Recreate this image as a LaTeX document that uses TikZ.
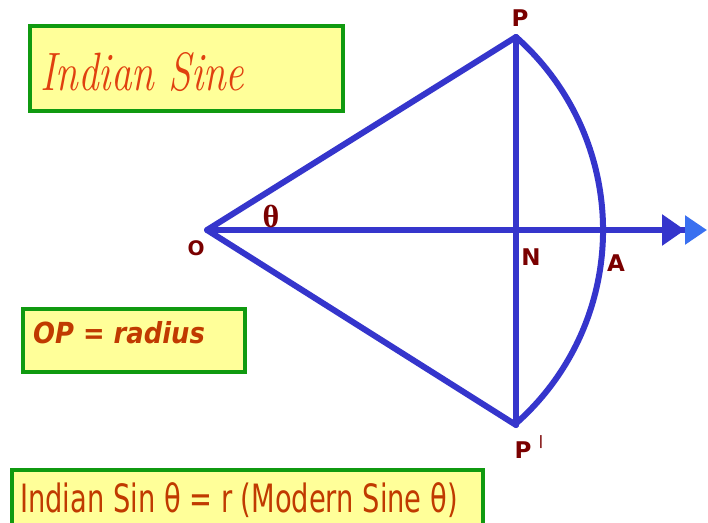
\documentclass[tikz,border=0pt]{standalone}
\usepackage{fontspec}
\usetikzlibrary{arrows.meta}
\newfontfamily\sansf{DejaVu Sans}
\newfontfamily\greekf{Liberation Serif}
\definecolor{lineblue}{HTML}{3535CC}
\definecolor{tipblue}{HTML}{3A70F0}
\definecolor{boxgreen}{HTML}{109A10}
\definecolor{boxfill}{HTML}{FFFF99}
\definecolor{lblred}{HTML}{7A0000}
\definecolor{titlered}{HTML}{E0400F}
\definecolor{txtred}{HTML}{C03A00}
\tikzset{
  geo/.style={draw=lineblue, line width=6pt, line cap=round, line join=round},
  textbox/.style={draw=boxgreen, fill=boxfill, line width=4pt},
  lbl/.style={text=lblred, font=\sansf\bfseries\fontsize{23}{23}\selectfont, inner sep=0pt},
}
\begin{document}
\begin{tikzpicture}[x=1pt,y=-1pt]
\useasboundingbox (0,0) rectangle (708,522);
\fill[white] (0,0) rectangle (708,522);
% boxes
\draw[textbox] (30,26) rectangle (343,111);
\node[anchor=base west, inner sep=0pt, text=titlered,
  font=\itshape\fontsize{54}{54}\selectfont] (title) at (40,90)
  {\scalebox{0.76}[1]{Indian Sine}};
\draw[textbox] (23,309) rectangle (245,372);
\node[anchor=base west, inner sep=0pt, text=txtred,
  font=\sansf\bfseries\itshape\fontsize{29}{29}\selectfont] (oprad) at (33,343)
  {\scalebox{0.89}[1]{OP = radius}};
\begin{scope}
\clip (0,0) rectangle (708,522);
\draw[textbox] (12,470) rectangle (483,540);
\end{scope}
\node[anchor=base west, inner sep=0pt, text=txtred,
  font=\sansf\fontsize{39}{39}\selectfont] (formula) at (20,512)
  {\scalebox{0.70}[1]{Indian Sin θ = r (Modern Sine θ)}};
% geometry points
\coordinate (O) at (207,230);
\coordinate (P) at (516,37);
\coordinate (Pp) at (516,425);
\coordinate (N) at (516,230);
\coordinate (A) at (603,230);
\coordinate (E) at (707,230);
% lines
\draw[geo, -{Triangle[length=23pt,width=30pt,color=lineblue]Triangle[length=22pt,width=28pt,color=tipblue]}] (O) -- (E);
\draw[geo] (P) -- (O) -- (Pp);
\draw[geo] (P) -- (Pp);
\draw[geo] (P) arc[start angle=-48.5, end angle=48.5, radius=258];
% labels
\node[lbl] (lP) at (520,18) {P};
\node[lbl] (lPp) at (523,450) {P};
\node[text=lblred, font=\sansf\bfseries\fontsize{13}{13}\selectfont, inner sep=0pt] (lprime) at (541,442) {|};
\node[lbl, font=\sansf\bfseries\fontsize{20}{20}\selectfont] (lO) at (196,248) {O};
\node[lbl] (lN) at (531,257) {N};
\node[lbl] (lA) at (616,263) {A};
\node[text=lblred, font=\greekf\bfseries\fontsize{32}{32}\selectfont, inner sep=0pt] (ltheta) at (271,216) {θ};
\end{tikzpicture}
\end{document}
